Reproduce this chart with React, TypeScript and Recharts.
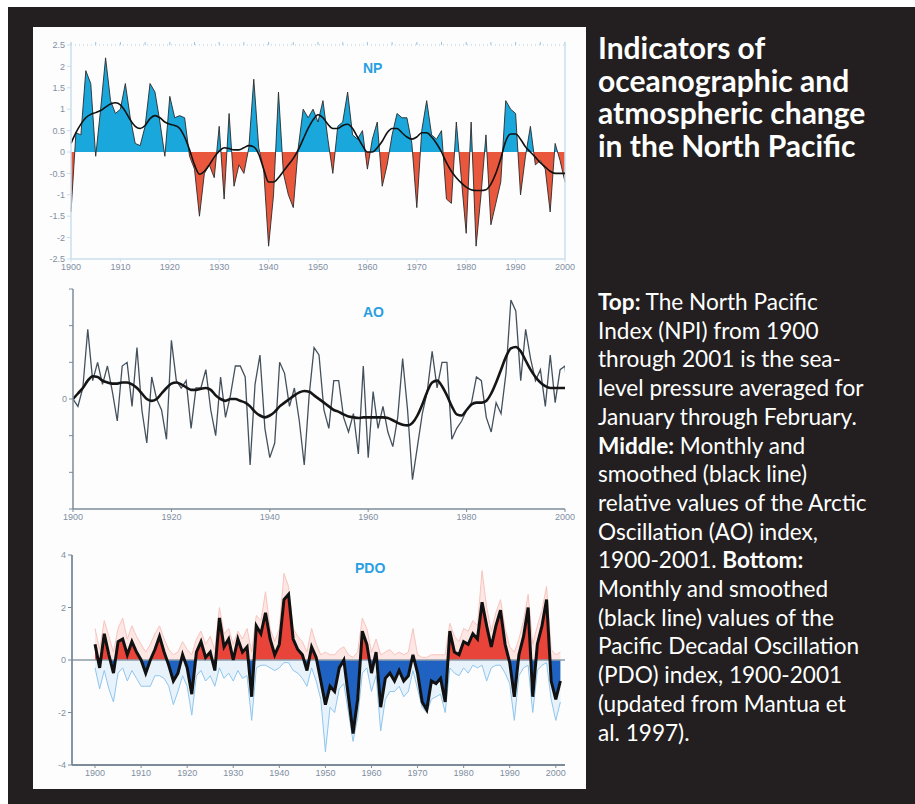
import React from 'react';
import { ComposedChart, Area, Line, XAxis, YAxis, ReferenceLine } from 'recharts';

// ---------- DATA ----------
const START_YEAR = 1900;

// North Pacific Index anomalies (annual, 1900-2000)
const npValues = [
  -1.4, 0.45, 0.4, 1.9, 1.6, -0.1, 1.0, 2.2, 1.2, 0.9,
  1.0, 1.6, 0.8, 0.2, 0.15, 0.6, 1.6, 1.4, 0.7, -0.1,
  1.3, 0.8, 0.85, 0.8, -0.1, -0.4, -1.5, -0.5, -0.3, -0.6,
  0.6, -1.1, 0.9, -0.8, -0.3, -0.5, 0.1, 1.7, 0.1, -0.4,
  -2.2, -1.0, 1.4, -0.5, -1.0, -1.3, 0.1, 1.0, 0.8, 1.0,
  0.7, 1.2, 0.3, -0.5, 0.6, 0.7, 1.4, 0.4, 0.3, 0.5,
  -0.4, 0.3, 0.7, -0.8, -0.3, 0.4, 0.9, 0.8, 0.8, 0.2,
  -1.3, 0.5, 1.2, 0.4, 0.3, 0.5, -1.1, -1.2, 0.7, -0.6,
  -1.9, 0.7, -2.2, -1.0, 0.4, -1.7, -1.2, -0.7, 1.2, 1.0,
  0.9, -1.0, -0.1, 0.6, -0.3, -0.2, -0.4, -1.4, 0.2, -0.2,
  -0.7,
];
const npSmooth = [
  0.2, 0.45, 0.65, 0.8, 0.88, 0.92, 0.97, 1.05, 1.12, 1.15,
  1.1, 0.95, 0.75, 0.6, 0.55, 0.62, 0.78, 0.85, 0.8, 0.7,
  0.65, 0.62, 0.55, 0.35, 0.05, -0.3, -0.52, -0.45, -0.3, -0.12,
  0.02, 0.1, 0.08, 0.05, 0.05, 0.1, 0.15, 0.12, -0.05, -0.4,
  -0.7, -0.7, -0.6, -0.45, -0.3, -0.15, 0.05, 0.3, 0.55, 0.75,
  0.87, 0.8, 0.65, 0.55, 0.55, 0.62, 0.65, 0.55, 0.35, 0.15,
  0.0, 0.0, 0.1, 0.25, 0.45, 0.55, 0.55, 0.45, 0.35, 0.3,
  0.35, 0.45, 0.45, 0.35, 0.2, 0.0, -0.25, -0.45, -0.6, -0.72,
  -0.82, -0.88, -0.9, -0.9, -0.88, -0.75, -0.5, -0.15, 0.25, 0.42,
  0.42, 0.3, 0.12, 0.0, -0.12, -0.25, -0.35, -0.45, -0.5, -0.5,
  -0.5,
];
const npXTicks = [1900, 1910, 1920, 1930, 1940, 1950, 1960, 1970, 1980, 1990, 2000];
const npTopTicks = [1900, 1905, 1910, 1915, 1920, 1925, 1930, 1935, 1940, 1945, 1950, 1955, 1960, 1965, 1970, 1975, 1980, 1985, 1990, 1995, 2000];
const npYTicks = [-2.5, -2, -1.5, -1, -0.5, 0, 0.5, 1, 1.5, 2, 2.5];

// Arctic Oscillation (1900-2001)
const aoValues = [
  0.0, -0.2, 0.3, 1.9, 0.5, 1.0, 0.4, 0.9, 0.2, -0.6,
  0.9, 1.0, -0.2, 1.4, -0.3, -1.2, 0.6, 0.0, -0.3, -1.1,
  1.6, 0.5, 0.3, 0.5, -0.8, 0.3, 0.3, 0.8, -0.3, -1.0,
  0.6, -0.5, 0.1, 0.9, 0.9, 0.6, -1.8, 0.4, 1.2, -0.8,
  -1.6, -1.2, 1.0, 0.7, -0.2, 0.3, -0.6, -1.8, 0.1, 1.4,
  1.2, -0.3, -0.8, 0.5, 0.5, -0.5, -0.9, -0.4, -1.5, 0.9,
  -1.6, 0.2, -0.8, -0.2, -0.9, -1.3, -0.5, 1.1, -0.3, -2.2,
  -1.3, -0.4, 0.2, 1.3, 0.3, 1.0, 1.0, -1.1, -0.8, -0.6,
  -0.3, -0.1, 0.6, 0.5, -0.5, -0.9, -0.1, -0.4, 0.7, 2.7,
  2.4, 0.5, 1.9, 1.1, 0.5, 0.8, -0.2, 1.2, -0.1, 0.8,
  0.9, -0.6,
];
const aoSmooth = [
  0.0, 0.15, 0.3, 0.5, 0.62, 0.6, 0.5, 0.45, 0.42, 0.42,
  0.45, 0.45, 0.4, 0.3, 0.15, 0.0, -0.05, 0.0, 0.15, 0.3,
  0.42, 0.45, 0.4, 0.32, 0.25, 0.25, 0.28, 0.3, 0.25, 0.1,
  0.0, -0.05, 0.0, 0.0, -0.05, -0.1, -0.2, -0.35, -0.45, -0.5,
  -0.45, -0.35, -0.2, -0.1, 0.0, 0.1, 0.18, 0.22, 0.2, 0.1,
  0.0, -0.1, -0.2, -0.3, -0.35, -0.42, -0.48, -0.5, -0.52, -0.5,
  -0.5, -0.5, -0.5, -0.5, -0.52, -0.58, -0.65, -0.7, -0.72, -0.65,
  -0.45, -0.15, 0.2, 0.45, 0.5, 0.35, 0.1, -0.2, -0.42, -0.45,
  -0.3, -0.15, -0.1, -0.1, -0.05, 0.15, 0.45, 0.8, 1.15, 1.38,
  1.42, 1.3, 1.05, 0.8, 0.6, 0.45, 0.35, 0.3, 0.3, 0.3,
  0.3, 0.3,
];
const aoXTicks = [1900, 1920, 1940, 1960, 1980, 2000];
const aoYTicks = [-3, -2, -1, 0, 1, 2, 3];

// Pacific Decadal Oscillation (1900-2001)
const pdoSmooth = [
  0.6, -0.3, 1.0, 0.2, -0.5, 0.7, 0.8, 0.2, 0.7, 0.3,
  0.0, -0.5, 0.0, 0.4, 0.9, 0.3, -0.2, -0.8, -0.5, 0.2,
  -0.3, -1.3, 0.3, 0.7, 0.1, 0.3, -0.4, 1.6, 0.5, 0.8,
  0.0, 0.8, 0.3, 0.5, -1.4, 1.3, 1.0, 1.8, 0.8, 0.2,
  0.6, 2.3, 2.5, 0.8, 0.4, 0.2, -0.4, 0.5, 0.1, -0.8,
  -1.7, -1.0, -1.2, -0.3, 0.0, -1.4, -2.8, -1.5, 1.1, 0.6,
  -0.5, 0.3, -1.8, -0.7, -0.5, -0.8, -0.4, -0.8, -0.6, 0.2,
  -0.5, -1.6, -1.9, -0.8, -0.9, -0.7, -1.6, 1.1, 0.3, 0.2,
  0.7, 0.6, 1.0, 0.8, 2.2, 1.3, 0.5, 1.3, 1.9, 0.6,
  -0.1, -1.4, 0.2, 0.9, 2.0, -1.4, 0.6, 1.3, 2.3, -0.8,
  -1.5, -0.8,
];
const pdoHigh = [
  1.2, 0.4, 1.5, 0.9, 0.3, 1.2, 1.6, 0.8, 1.3, 0.9,
  0.6, 0.3, 0.6, 1.0, 1.3, 0.8, 0.4, 0.2, 0.3, 0.7,
  0.4, 0.2, 0.8, 1.1, 0.6, 0.9, 0.4, 2.0, 1.0, 1.2,
  0.6, 1.1, 0.8, 1.2, 0.3, 1.7, 1.5, 2.6, 1.2, 0.7,
  1.2, 3.3, 2.8, 1.2, 0.9, 0.7, 0.3, 1.2, 0.6, 0.2,
  0.3, 0.2, 0.2, 0.4, 0.5, 0.2, 0.1, 0.3, 1.6, 1.2,
  0.3, 0.8, 0.2, 0.3, 0.4, 0.2, 0.3, 0.2, 0.3, 1.2,
  0.2, 0.1, 0.1, 0.2, 0.2, 0.2, 0.2, 1.4, 0.9, 0.7,
  1.2, 1.1, 1.5, 1.3, 3.4, 2.0, 1.1, 1.8, 2.3, 1.2,
  0.5, 0.3, 0.8, 1.5, 2.5, 0.6, 1.3, 1.9, 2.8, 0.4,
  0.2, 0.3,
];
const pdoLow = [
  -0.3, -1.1, -0.4, -1.1, -1.6, -0.5, -0.3, -0.8, -0.4, -0.7,
  -1.0, -1.0, -1.0, -0.6, -0.6, -0.7, -1.0, -1.7, -1.2, -0.6,
  -1.0, -2.1, -0.6, -0.4, -0.8, -0.6, -1.0, -0.3, -0.7, -0.5,
  -0.8, -0.4, -0.7, -0.6, -2.3, -0.3, -0.2, -0.2, -0.3, -0.4,
  -0.3, -0.1, -0.1, -0.4, -0.5, -0.7, -1.0, -0.3, -0.8, -1.5,
  -3.5, -1.8, -2.0, -1.1, -0.9, -2.0, -3.1, -2.2, -0.5, -0.3,
  -1.2, -0.6, -2.7, -1.5, -1.2, -1.2, -1.0, -1.4, -1.2, -0.4,
  -1.1, -1.8, -2.0, -1.5, -1.4, -1.3, -2.0, -0.3, -0.5, -0.6,
  -0.3, -0.5, -0.2, -0.3, -0.2, -0.8, -0.3, -0.2, -0.2, -0.5,
  -0.9, -2.3, -0.6, -0.3, -0.2, -2.0, -0.4, -0.2, -0.1, -1.5,
  -2.3, -1.6,
];
const pdoXTicks = [1900, 1910, 1920, 1930, 1940, 1950, 1960, 1970, 1980, 1990, 2000];
const pdoYTicks = [-4, -2, 0, 2, 4];

const titleLines = ['Indicators of', 'oceanographic and', 'atmospheric change', 'in the North Pacific'];
const captionLines: Array<[string, string, string?]> = [
  ['Top:', ' The North Pacific'],
  ['', 'Index (NPI) from 1900'],
  ['', 'through 2001 is the sea-'],
  ['', 'level pressure averaged for'],
  ['', 'January through February.'],
  ['Middle:', ' Monthly and'],
  ['', 'smoothed (black line)'],
  ['', 'relative values of the Arctic'],
  ['', 'Oscillation (AO) index,'],
  ['', '1900-2001. ', 'Bottom:'],
  ['', 'Monthly and smoothed'],
  ['', '(black line) values of the'],
  ['', 'Pacific Decadal Oscillation'],
  ['', '(PDO) index, 1900-2001'],
  ['', '(updated from Mantua et'],
  ['', 'al. 1997).'],
];

// ---------- derived tables ----------
const npData = npValues.map((v, i) => ({ year: START_YEAR + i, v, s: npSmooth[i] }));
const aoData = aoValues.map((v, i) => ({ year: START_YEAR + i, v, s: aoSmooth[i] }));
const pdoData = pdoSmooth.map((v, i) => ({ year: START_YEAR + i, v, hi: pdoHigh[i], lo: pdoLow[i] }));

const splitOffset = (arr: number[]) => {
  const mx = Math.max(...arr);
  const mn = Math.min(...arr);
  return mx / (mx - mn);
};
const npOff = splitOffset(npValues);
const pdoOff = splitOffset(pdoSmooth);

const tickStyle = { fontSize: 9, fill: '#7f8f9e', fontFamily: 'Liberation Sans, Arial, sans-serif' };
const NP_AXIS = '#c9dfee';
const GREY_AXIS = '#7b8b99';
const BLUE_TITLE = '#2a9fe2';

const chartTitle = (text: string, left: number, top: number) => (
  <div
    style={{
      position: 'absolute',
      left,
      top,
      fontFamily: 'Liberation Sans, Arial, sans-serif',
      fontWeight: 700,
      fontSize: 14,
      color: BLUE_TITLE,
      lineHeight: '16px',
    }}
  >
    {text}
  </div>
);

export default function App() {
  return (
    <div style={{ position: 'absolute', left: 0, top: 0, width: 915, height: 804, background: '#ffffff', overflow: 'hidden' }}>
      <div style={{ position: 'absolute', left: 8, top: 7, width: 907, height: 797, background: '#231f20' }} />
      <div style={{ position: 'absolute', left: 33, top: 27, width: 553, height: 762, background: '#fdfdfe' }} />

      {/* NP chart */}
      <div style={{ position: 'absolute', left: 33, top: 30 }}>
        <ComposedChart width={553} height={252} data={npData} margin={{ top: 11, right: 21, bottom: 3, left: 8 }}>
          <defs>
            <linearGradient id="npSplit" x1="0" y1="0" x2="0" y2="1">
              <stop offset={npOff} stopColor="#19a7dc" />
              <stop offset={npOff} stopColor="#e9573c" />
            </linearGradient>
          </defs>
          <XAxis
            dataKey="year"
            type="number"
            domain={[1900, 2000]}
            ticks={npXTicks}
            tick={tickStyle}
            tickSize={3}
            height={20}
            axisLine={{ stroke: NP_AXIS, strokeWidth: 1.5 }}
            tickLine={{ stroke: NP_AXIS }}
          />
          <XAxis
            xAxisId="top"
            orientation="top"
            dataKey="year"
            type="number"
            domain={[1900, 2000]}
            ticks={npTopTicks}
            tickFormatter={() => ''}
            tickSize={3}
            height={4}
            axisLine={{ stroke: NP_AXIS, strokeDasharray: '1 3', strokeWidth: 1.5 }}
            tickLine={{ stroke: '#9cc4dd' }}
          />
          <YAxis
            type="number"
            domain={[-2.5, 2.5]}
            ticks={npYTicks}
            tick={tickStyle}
            tickSize={4}
            width={30}
            axisLine={{ stroke: NP_AXIS, strokeWidth: 1.5 }}
            tickLine={{ stroke: NP_AXIS }}
            allowDataOverflow
          />
          <ReferenceLine x={2000} stroke={NP_AXIS} strokeWidth={1.5} />
          <Area
            type="linear"
            dataKey="v"
            baseValue={0}
            stroke="#2a2a2a"
            strokeWidth={0.9}
            fill="url(#npSplit)"
            fillOpacity={1}
            isAnimationActive={false}
            dot={false}
            activeDot={false}
          />
          <Line
            type="monotone"
            dataKey="s"
            stroke="#111111"
            strokeWidth={1.6}
            dot={false}
            activeDot={false}
            isAnimationActive={false}
          />
        </ComposedChart>
      </div>
      {chartTitle('NP', 363, 60)}

      {/* AO chart */}
      <div style={{ position: 'absolute', left: 33, top: 280 }}>
        <ComposedChart width={553} height={252} data={aoData} margin={{ top: 9, right: 21, bottom: 3, left: 10 }}>
          <XAxis
            dataKey="year"
            type="number"
            domain={[1900, 2000]}
            ticks={aoXTicks}
            tick={tickStyle}
            tickSize={3}
            height={20}
            axisLine={{ stroke: GREY_AXIS, strokeWidth: 1.5 }}
            tickLine={{ stroke: GREY_AXIS }}
            allowDataOverflow
          />
          <YAxis
            type="number"
            domain={[-3, 3]}
            ticks={aoYTicks}
            tick={tickStyle}
            tickFormatter={(v: number) => (v === 0 ? '0' : '')}
            tickSize={4}
            width={30}
            axisLine={{ stroke: GREY_AXIS, strokeWidth: 1.5 }}
            tickLine={{ stroke: GREY_AXIS }}
          />
          <Line
            type="linear"
            dataKey="v"
            stroke="#44515c"
            strokeWidth={1.3}
            dot={false}
            activeDot={false}
            isAnimationActive={false}
          />
          <Line
            type="monotone"
            dataKey="s"
            stroke="#151515"
            strokeWidth={2.6}
            dot={false}
            activeDot={false}
            isAnimationActive={false}
          />
        </ComposedChart>
      </div>
      {chartTitle('AO', 363, 304)}

      {/* PDO chart */}
      <div style={{ position: 'absolute', left: 33, top: 545 }}>
        <ComposedChart width={553} height={243} data={pdoData} margin={{ top: 10, right: 21, bottom: 3, left: 9 }}>
          <defs>
            <linearGradient id="pdoSplit" x1="0" y1="0" x2="0" y2="1">
              <stop offset={pdoOff} stopColor="#e8443a" />
              <stop offset={pdoOff} stopColor="#1f62c2" />
            </linearGradient>
          </defs>
          <XAxis
            dataKey="year"
            type="number"
            domain={[1895, 2002]}
            ticks={pdoXTicks}
            tick={tickStyle}
            tickSize={3}
            height={20}
            axisLine={{ stroke: GREY_AXIS, strokeWidth: 1.8 }}
            tickLine={{ stroke: GREY_AXIS }}
          />
          <YAxis
            type="number"
            domain={[-4, 4]}
            ticks={pdoYTicks}
            tick={tickStyle}
            tickSize={4}
            width={30}
            axisLine={{ stroke: GREY_AXIS, strokeWidth: 1.8 }}
            tickLine={{ stroke: GREY_AXIS }}
          />
          <Area
            type="linear"
            dataKey="hi"
            baseValue={0}
            stroke="#f8c4bd"
            strokeWidth={1}
            fill="#fcd9d4"
            fillOpacity={0.6}
            dot={false}
            activeDot={false}
            isAnimationActive={false}
          />
          <Area
            type="linear"
            dataKey="lo"
            baseValue={0}
            stroke="#8fc6ee"
            strokeWidth={1}
            fill="#d7eaf8"
            fillOpacity={0.55}
            dot={false}
            activeDot={false}
            isAnimationActive={false}
          />
          <ReferenceLine y={0} stroke="#8e9ba7" strokeWidth={1.5} />
          <Area
            type="linear"
            dataKey="v"
            baseValue={0}
            stroke="none"
            fill="url(#pdoSplit)"
            fillOpacity={1}
            dot={false}
            activeDot={false}
            isAnimationActive={false}
          />
          <Line
            type="linear"
            dataKey="v"
            stroke="#111111"
            strokeWidth={3}
            dot={false}
            activeDot={false}
            isAnimationActive={false}
          />
        </ComposedChart>
      </div>
      {chartTitle('PDO', 355, 560)}

      {/* Title */}
      <div
        style={{
          position: 'absolute',
          left: 598,
          top: 31,
          color: '#ffffff',
          fontFamily: 'Lato, "Open Sans", sans-serif',
          fontWeight: 700,
          fontSize: 30,
          lineHeight: '32.5px',
          whiteSpace: 'nowrap',
        }}
      >
        {titleLines.map((l) => (
          <div key={l}>{l}</div>
        ))}
      </div>

      {/* Caption */}
      <div
        style={{
          position: 'absolute',
          left: 598,
          top: 288,
          color: '#ffffff',
          fontFamily: 'Lato, "Open Sans", sans-serif',
          fontSize: 22.6,
          lineHeight: '28.7px',
          whiteSpace: 'nowrap',
        }}
      >
        {captionLines.map((l, i) => (
          <div key={i}>
            {l[0] ? <b>{l[0]}</b> : null}
            {l[1]}
            {l[2] ? <b>{l[2]}</b> : null}
          </div>
        ))}
      </div>
    </div>
  );
}
